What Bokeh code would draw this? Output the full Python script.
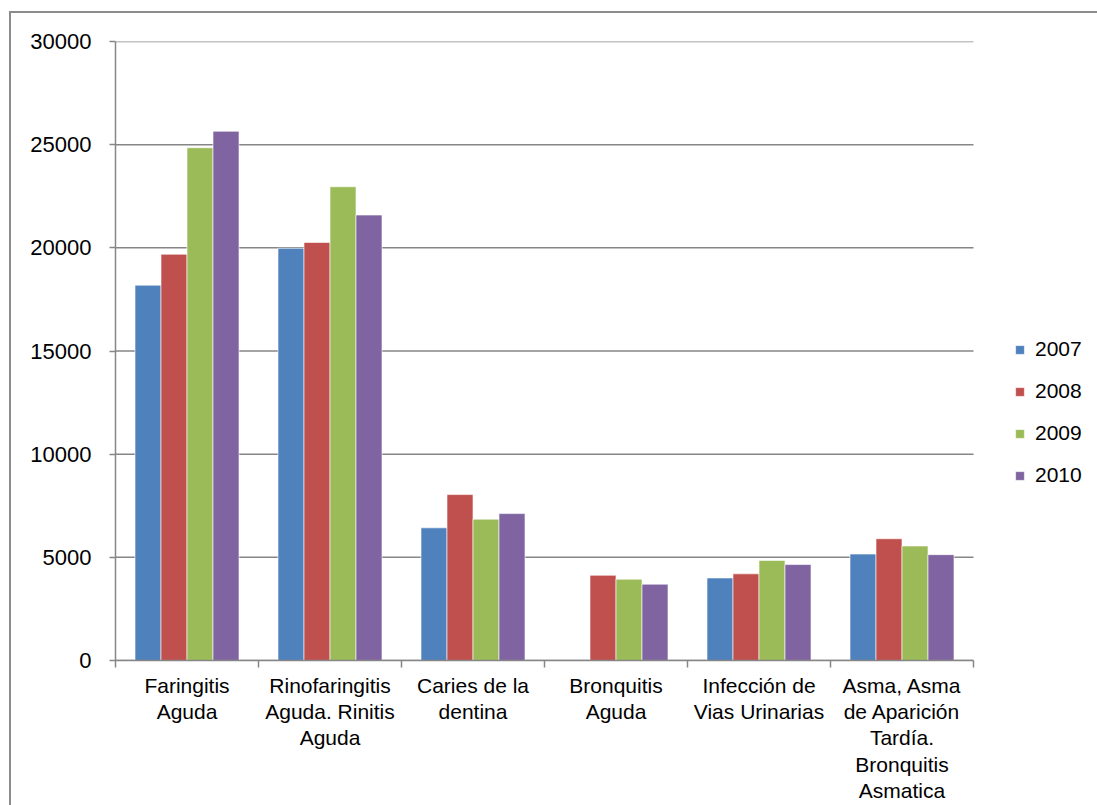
from bokeh.plotting import figure
from bokeh.models import (Range1d, FixedTicker, ColumnDataSource, Legend, LegendItem)
from bokeh.embed import file_html
from bokeh.resources import INLINE

categories = ["Faringitis\nAguda",
              "Rinofaringitis\nAguda. Rinitis\nAguda",
              "Caries de la\ndentina",
              "Bronquitis\nAguda",
              "Infección de\nVias Urinarias",
              "Asma, Asma\nde Aparición\nTardía.\nBronquitis\nAsmatica"]
years = ["2007", "2008", "2009", "2010"]
v2007 = [18190, 19980, 6430, 0, 4000, 5160]
v2008 = [19690, 20260, 8040, 4130, 4200, 5900]
v2009 = [24850, 22960, 6850, 3940, 4850, 5550]
v2010 = [25650, 21590, 7120, 3700, 4650, 5130]
series = [v2007, v2008, v2009, v2010]
colors = ["#4F81BD", "#C0504D", "#9BBB59", "#8064A2"]
y_ticks = [0, 5000, 10000, 15000, 20000, 25000, 30000]

FONT = "Liberation Sans"
GRAY = "#868686"
BORDER = "#8c8c8c"

W, H = 1097, 805
LEFT, PLOT_RIGHT = 115, 973
n = len(categories)
# frame extends to the right canvas edge so the legend can sit inside it
x_end = n * (W - LEFT) / (PLOT_RIGHT - LEFT)

p = figure(width=W, height=H, output_backend="svg", toolbar_location=None,
           x_range=Range1d(0, x_end), y_range=Range1d(0, 30000),
           min_border_left=LEFT, min_border_right=0, min_border_top=41,
           min_border_bottom=145)
p.outline_line_color = None
p.background_fill_color = "white"
p.border_fill_alpha = 0
p.styles = {
    "background": (f"linear-gradient({BORDER},{BORDER}) 9px 11px / 2px 100% no-repeat, "
                   f"linear-gradient({BORDER},{BORDER}) 9px 11px / 100% 2px no-repeat, white")
}

# horizontal gridlines limited to the plot area
p.xgrid.grid_line_color = None
p.ygrid.grid_line_color = None
p.segment(x0=[0] * len(y_ticks), x1=[n] * len(y_ticks), y0=y_ticks, y1=y_ticks,
          line_color=GRAY, line_width=1.5, level="underlay")

bw = 1.0 / (len(years) + 1.5)
renderers = []
for j, (vals, col) in enumerate(zip(series, colors)):
    xs = [i + 0.5 + (j - 1.5) * bw for i in range(n)]
    src = ColumnDataSource(dict(x=xs, top=vals))
    r = p.vbar(x="x", top="top", width=bw, source=src, fill_color=col,
               line_color="white", line_alpha=0.6, line_width=1)
    renderers.append(r)

# x axis: labels at centers, tick marks at boundaries
xa = p.xaxis[0]
xa.bounds = (0, n)
xa.ticker = FixedTicker(ticks=[i + 0.5 for i in range(n)],
                        minor_ticks=list(range(n + 1)))
xa.major_label_overrides = {i + 0.5: c for i, c in enumerate(categories)}
xa.major_tick_out = 0
xa.major_tick_in = 0
xa.minor_tick_out = 7
xa.minor_tick_in = 0
xa.minor_tick_line_color = GRAY
xa.axis_line_color = GRAY
xa.axis_line_width = 1.5
xa.minor_tick_line_width = 1.5
xa.major_label_text_font = FONT
xa.major_label_text_font_size = "21px"
xa.major_label_text_color = "black"
xa.major_label_text_line_height = 1.15
xa.major_label_standoff = 6

ya = p.yaxis[0]
ya.ticker = FixedTicker(ticks=y_ticks)
ya.major_label_overrides = {t: str(t) for t in y_ticks}
ya.major_tick_out = 6
ya.major_tick_in = 0
ya.minor_tick_out = 0
ya.minor_tick_in = 0
ya.axis_line_color = GRAY
ya.axis_line_width = 1.5
ya.major_tick_line_color = GRAY
ya.major_tick_line_width = 1.5
ya.major_label_text_font = FONT
ya.major_label_text_font_size = "22px"
ya.major_label_text_color = "black"
ya.major_label_standoff = 18

legend = Legend(items=[LegendItem(label=y, renderers=[r]) for y, r in zip(years, renderers)],
                location=(899, 173), orientation="vertical",
                border_line_color=None, background_fill_alpha=0,
                padding=0, margin=0, label_text_font=FONT,
                label_text_font_size="21px", label_text_color="black",
                glyph_width=11, glyph_height=11, label_standoff=10,
                spacing=18, label_height=24)
p.add_layout(legend, "center")

open("out.html", "w").write(file_html(p, INLINE))
